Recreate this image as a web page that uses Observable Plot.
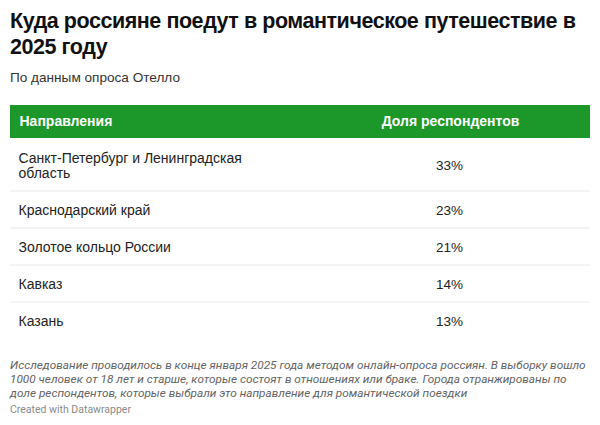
<!DOCTYPE html>
<html>
<head>
<meta charset="utf-8">
<script src="https://cdn.jsdelivr.net/npm/d3@7"></script>
<script src="https://cdn.jsdelivr.net/npm/@observablehq/plot@0.6"></script>
<style>
  html, body { margin: 0; padding: 0; background: #fff; }
  body { width: 600px; height: 425px; position: relative; overflow: hidden; font-family: "Liberation Sans", Arial, sans-serif; color: #1d1d1d; }
  #title { position: absolute; left: 10px; top: 8px; width: 585px; font-size: 21.5px; line-height: 26px; font-weight: bold; color: #111; letter-spacing: -0.45px; }
  #subtitle { position: absolute; left: 10px; top: 70px; font-size: 13.6px; line-height: 16px; color: #333; }
  #chart { position: absolute; left: 0; top: 100px; }
  #notes { position: absolute; left: 10px; top: 358px; font-family: Roboto, sans-serif; font-style: italic; font-size: 11.8px; line-height: 14px; color: #636363; white-space: nowrap; }
  #credit { position: absolute; left: 10px; top: 404px; font-family: Roboto, sans-serif; font-size: 10.5px; line-height: 12px; color: #8a8a8a; }
</style>
</head>
<body>
<div id="title"></div>
<div id="subtitle"></div>
<div id="chart"></div>
<div id="notes"></div>
<div id="credit"></div>
<script>
const titleText = "Куда россияне поедут в романтическое путешествие в 2025 году";
const subtitleText = "По данным опроса Отелло";
const columnHeaders = ["Направления", "Доля респондентов"];
const destinations = [
  "Санкт-Петербург и Ленинградская область",
  "Краснодарский край",
  "Золотое кольцо России",
  "Кавказ",
  "Казань"
];
const shares = [33, 23, 21, 14, 13];
const noteLines = [
  "Исследование проводилось в конце января 2025 года методом онлайн-опроса россиян. В выборку вошло",
  "1000 человек от 18 лет и старше, которые состоят в отношениях или браке. Города отранжированы по",
  "доле респондентов, которые выбрали это направление для романтической поездки"
];
const creditText = "Created with Datawrapper";

document.getElementById("title").textContent = titleText;
document.getElementById("subtitle").textContent = subtitleText;
document.getElementById("notes").innerHTML = noteLines.map(l => l.replace(/&/g,"&amp;").replace(/</g,"&lt;")).join("<br>");
document.getElementById("credit").textContent = creditText;

// wrap text at a maximum character count
function wrap(s, maxChars) {
  const words = s.split(" ");
  const lines = [];
  let cur = "";
  for (const w of words) {
    if (cur && (cur + " " + w).length > maxChars) { lines.push(cur); cur = w; }
    else cur = cur ? cur + " " + w : w;
  }
  if (cur) lines.push(cur);
  return lines;
}

// layout: compute rows
const W = 600, H = 245;
const tableLeft = 10, tableRight = 590;
const headerTop = 5, headerH = 33;
const lineH = 15.5, pad = 21.5;
let yCursor = headerTop + headerH;
const rows = destinations.map((d, i) => {
  const lines = wrap(d, 32);
  const h = pad + lineH * lines.length;
  const r = { label: lines.join("\n"), value: shares[i] + "%", y1: yCursor, y2: yCursor + h, last: i === destinations.length - 1 };
  yCursor += h;
  return r;
});
const header = [{ y1: headerTop, y2: headerTop + headerH, c1: columnHeaders[0], c2: columnHeaders[1] }];

const col1X = 18, col2X = 449;

const chart = Plot.plot({
  width: W,
  height: H,
  margin: 0,
  style: { fontFamily: "'Liberation Sans', Arial, sans-serif", background: "transparent" },
  x: { domain: [0, W], range: [0, W], axis: null },
  y: { domain: [0, H], range: [0, H], axis: null },
  marks: [
    Plot.rect(header, { x1: tableLeft, x2: tableRight, y1: "y1", y2: "y2", fill: "#1b9829" }),
    Plot.text(header, { x: col1X + 1, y: d => (d.y1 + d.y2) / 2, text: "c1", textAnchor: "start", fill: "#fff", fontSize: 14, fontWeight: "bold" }),
    Plot.text(header, { x: col2X + 1, y: d => (d.y1 + d.y2) / 2, text: "c2", textAnchor: "middle", fill: "#fff", fontSize: 14, fontWeight: "bold" }),
    Plot.ruleY(rows.filter(r => !r.last), { y: "y2", x1: tableLeft, x2: tableRight, stroke: "#e8e8e8", strokeWidth: 1 }),
    Plot.text(rows, { x: col1X, y: d => (d.y1 + d.y2) / 2 + 1, text: "label", textAnchor: "start", lineAnchor: "middle", lineHeight: 1.07, fill: "#222", fontSize: 14 }),
    Plot.text(rows, { x: col2X, y: d => (d.y1 + d.y2) / 2 + 1, text: "value", textAnchor: "middle", lineAnchor: "middle", fill: "#222", fontSize: 13.5 })
  ]
});
document.getElementById("chart").appendChild(chart);
</script>
</body>
</html>
